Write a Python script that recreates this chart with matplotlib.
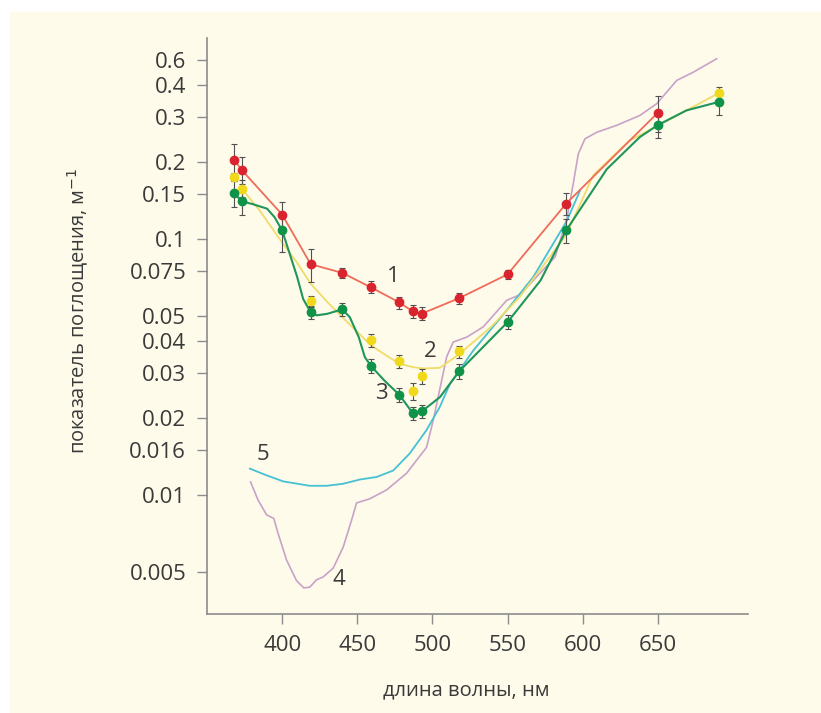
import matplotlib
matplotlib.use('Agg')
import matplotlib.pyplot as plt
from matplotlib.patches import Rectangle

plt.rcParams['font.family'] = ['Open Sans', 'DejaVu Sans']

# measured points, nm / m^-1
wl_1 = [368, 373, 400, 419, 440, 459, 478, 487, 493, 518, 550, 589, 650]
k_1 = [0.205, 0.187, 0.125, 0.080, 0.074, 0.065, 0.0567, 0.0523, 0.0513,
       0.059, 0.073, 0.138, 0.3125]
err_1 = [0.031, 0.023, 0.015, 0.012, 0.0036, 0.0035, 0.003, 0.003, 0.003,
         0.003, 0.003, 0.014, 0.05]

wl_2 = [368, 373, 419, 459, 478, 487, 493, 518, 691]
k_2 = [0.175, 0.158, 0.0573, 0.0403, 0.0335, 0.0255, 0.0292, 0.0365, 0.374]
err_2 = [0.006, 0.012, 0.003, 0.0024, 0.002, 0.002, 0.002, 0.002, 0.02]

wl_3 = [368, 373, 400, 419, 440, 459, 478, 487, 493, 518, 550, 589, 650, 691]
k_3 = [0.1517, 0.1411, 0.1084, 0.0519, 0.0533, 0.0321, 0.0247, 0.0209, 0.0213,
       0.0306, 0.0475, 0.1084, 0.2796, 0.345]
err_3 = [0.018, 0.017, 0.019, 0.003, 0.003, 0.002, 0.0015, 0.0012, 0.0012,
         0.002, 0.003, 0.012, 0.03, 0.04]

# drawn curves
line2_x = [373, 385, 399, 410, 419, 430, 440, 450, 459, 470, 478, 487, 494,
           505, 518, 539, 558, 589, 607, 631, 650, 691]
line2_y = [0.158, 0.1298, 0.0991, 0.081, 0.0671, 0.057, 0.0497, 0.0435, 0.0386,
           0.035, 0.0327, 0.0317, 0.0313, 0.0315, 0.0357, 0.0455, 0.0595, 0.104,
           0.178, 0.243, 0.278, 0.374]

line3_x = [368, 373, 381, 390, 395, 400, 405, 410, 414, 419, 423, 430, 440, 445,
           451, 455, 459, 468, 478, 484, 487, 493, 505, 518, 550, 572, 589, 616,
           638, 650, 669, 691]
line3_y = [0.1517, 0.1411, 0.137, 0.1318, 0.122, 0.1084, 0.088, 0.0713, 0.0585,
           0.0519, 0.0505, 0.0512, 0.0533, 0.0497, 0.0415, 0.0347, 0.0321, 0.0281,
           0.0247, 0.0221, 0.0209, 0.0213, 0.0242, 0.0306, 0.0475, 0.0692, 0.1084,
           0.188, 0.251, 0.2796, 0.319, 0.345]

line4_x = [379, 384, 389.6, 394.5, 397.3, 403, 409.6, 414.4, 418.4, 422.9, 427.3,
           434, 440.6, 446.2, 449.5, 458.4, 469.5, 482.8, 496.1, 500.5, 509.5,
           513.8, 522.8, 533.8, 549.4, 558.3, 567.1, 581.6, 589.4, 593.7, 597.1,
           601.5, 609.3, 622.6, 638.1, 649.3, 662.6, 673.6, 689.2]
line4_y = [0.01128, 0.00958, 0.0084, 0.00812, 0.0071, 0.00558, 0.00464, 0.00435,
           0.00438, 0.00468, 0.0048, 0.0052, 0.00627, 0.0080, 0.00934, 0.0097,
           0.0105, 0.0122, 0.0154, 0.0196, 0.0348, 0.0397, 0.0415, 0.0455, 0.0578,
           0.0608, 0.0691, 0.0853, 0.120, 0.165, 0.216, 0.247, 0.262, 0.279, 0.305,
           0.339, 0.418, 0.45, 0.508]

line5_x = [378.5, 389.6, 400.7, 418.4, 429.6, 440.6, 451.7, 462.9, 473.9, 485,
           496.1, 505, 511.7, 527.2, 549.4, 567.1, 589.4, 598.2]
line5_y = [0.01272, 0.01198, 0.01134, 0.0109, 0.0109, 0.0111, 0.01153, 0.0118,
           0.0125, 0.0146, 0.018, 0.0222, 0.0273, 0.0368, 0.0528, 0.0713, 0.118,
           0.155]

ytick_vals = [0.5, 0.4, 0.3, 0.2, 0.15, 0.1, 0.075, 0.05, 0.04, 0.03, 0.02,
              0.015, 0.01, 0.005]
ytick_labels = ['0.6', '0.4', '0.3', '0.2', '0.15', '0.1', '0.075', '0.05',
                '0.04', '0.03', '0.02', '0.016', '0.01', '0.005']
xtick_vals = [400, 450, 500, 550, 600, 650]

cream = '#fefbea'
text_c = '#3a3a3a'
axis_c = '#8c8c8c'

fig = plt.figure(figsize=(8.21, 7.13), dpi=100, facecolor='white')
fig.patches.append(Rectangle((10 / 821, 0), 1, 1 - 12 / 713,
                             transform=fig.transFigure, color=cream, zorder=-5))
ax = fig.add_axes([207 / 821, 1 - 614 / 713, 541 / 821, 576 / 713])
ax.set_facecolor('none')

ax.plot(line4_x, line4_y, color='#c8a2c8', lw=1.2, zorder=2)
ax.plot(line5_x, line5_y, color='#45c0d4', lw=1.3, zorder=2)
ax.plot(line2_x, line2_y, color='#efdc6a', lw=1.3, zorder=2)
ax.plot(line3_x, line3_y, color='#20955c', lw=1.5, zorder=2)
ax.plot(wl_1, k_1, color='#ee6c5a', lw=1.3, zorder=2)

for wl, k, err, c in [(wl_2, k_2, err_2, '#f0d81c'),
                      (wl_3, k_3, err_3, '#0f9348'),
                      (wl_1, k_1, err_1, '#d9232e')]:
    ax.errorbar(wl, k, yerr=err, fmt='none', ecolor='#505050', elinewidth=0.8,
                capsize=2, capthick=0.8, zorder=3)
    ax.plot(wl, k, 'o', color=c, ms=6, mec=c, zorder=4)

ax.set_yscale('log')
ax.set_xlim(350, 710)
ax.set_ylim(0.00344, 0.612)
ax.set_yticks(ytick_vals)
ax.set_yticklabels(ytick_labels)
ax.yaxis.set_minor_locator(matplotlib.ticker.NullLocator())
ax.set_xticks(xtick_vals)

for s in ['top', 'right']:
    ax.spines[s].set_visible(False)
for s in ['left', 'bottom']:
    ax.spines[s].set_color(axis_c)
    ax.spines[s].set_linewidth(1.2)
ax.tick_params(direction='out', length=7, width=1, color=axis_c,
               labelsize=16, labelcolor=text_c, pad=8)

ax.set_ylabel('показатель поглощения, м$^{-1}$', fontsize=14.5, color=text_c)
ax.yaxis.set_label_coords(-0.238, 0.527)
ax.yaxis.label.set_va('center')
ax.set_xlabel('длина волны, нм', fontsize=14.5, color=text_c)
ax.xaxis.set_label_coords(0.48, -0.132)
ax.xaxis.label.set_va('center')

for txt, x, y in [('1', 473.7, 0.0715), ('2', 498.3, 0.0364), ('3', 466.2, 0.0251),
                  ('4', 437.5, 0.00468), ('5', 387, 0.0145)]:
    ax.text(x, y, txt, fontsize=16, color=text_c, ha='center', va='center', zorder=5)

fig.savefig('out.png', dpi=100)
